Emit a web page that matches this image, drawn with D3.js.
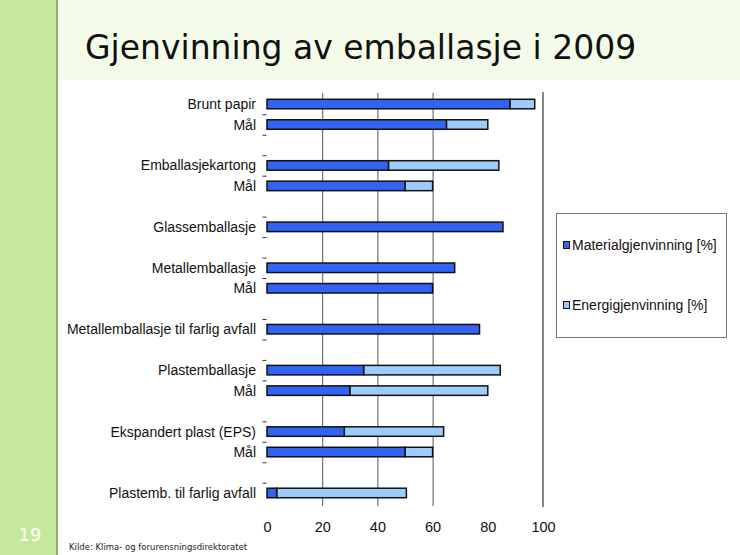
<!DOCTYPE html>
<html><head><meta charset="utf-8">
<script src="https://cdn.jsdelivr.net/npm/d3@7"></script>
<style>html,body{margin:0;padding:0;background:#fff;}svg{display:block;}</style>
</head><body>
<script>
const categories = ["Brunt papir","Mål","","Emballasjekartong","Mål","","Glassemballasje","","Metallemballasje","Mål","","Metallemballasje til farlig avfall","","Plastemballasje","Mål","","Ekspandert plast (EPS)","Mål","","Plastemb. til farlig avfall"];
const material = [88,65,null,44,50,null,85.5,null,68,60,null,77,null,35,30,null,28,50,null,3.5];
const energy   = [9,15,null,40,10,null,0,null,0,0,null,0,null,49.5,50,null,36,10,null,47];
const xTicks = [0,20,40,60,80,100];
const gridValues = [20,40,60];
const seriesNames = ["Materialgjenvinning [%]","Energigjenvinning [%]"];
const seriesColors = ["#3363f2","#9dccfb"];
const title = "Gjenvinning av emballasje i 2009";
const source = "Kilde: Klima- og forurensningsdirektoratet";
const pageNo = "19";

const W = 740, H = 555;
const svg = d3.select("body").append("svg").attr("width", W).attr("height", H);

// slide background
svg.append("rect").attr("x",0).attr("y",0).attr("width",W).attr("height",H).attr("fill","#fff");
svg.append("rect").attr("x",0).attr("y",0).attr("width",56).attr("height",H).attr("fill","#c6e89c");
svg.append("rect").attr("x",56).attr("y",0).attr("width",2).attr("height",H).attr("fill","#90aa78");
svg.append("rect").attr("x",58).attr("y",0).attr("width",W-58).attr("height",80).attr("fill","#f4fce9");
svg.append("text").attr("x",85).attr("y",59).attr("font-family","DejaVu Sans, Verdana, sans-serif")
  .attr("font-size",33).attr("fill","#111").text(title);
svg.append("text").attr("x",30).attr("y",541).attr("text-anchor","middle")
  .attr("font-family","DejaVu Sans, Verdana, sans-serif").attr("font-size",18).attr("fill","#fff").text(pageNo);
svg.append("text").attr("x",69).attr("y",550).attr("font-family","DejaVu Sans, Verdana, sans-serif")
  .attr("font-size",8.5).attr("fill","#222").text(source);

// scales
const x = d3.scaleLinear().domain([0,100]).range([267,543]);
const y = d3.scaleBand().domain(d3.range(categories.length)).range([93.8,503.2]).padding(0);
const bh = 9.5;
const font = "Liberation Sans, Arial, sans-serif";

// gridlines
svg.append("g").selectAll("line").data(gridValues).join("line")
  .attr("x1",d=>x(d)+0.5).attr("x2",d=>x(d)+0.5).attr("y1",93).attr("y2",506)
  .attr("stroke","#555").attr("stroke-width",1);
svg.append("line").attr("x1",x(100)).attr("x2",x(100)).attr("y1",92).attr("y2",507)
  .attr("stroke","#666").attr("stroke-width",1.6);

// left ticks at slot boundaries
const bounds = d3.range(1, categories.length).filter(i => i % 5 !== 0);
svg.append("g").selectAll("line").data(bounds).join("line")
  .attr("x1",262.5).attr("x2",266.5)
  .attr("y1",i=>y(i)+0.5).attr("y2",i=>y(i)+0.5)
  .attr("stroke","#333").attr("stroke-width",1);

// bars
const rows = categories.map((c,i)=>({i, c, m: material[i], e: energy[i]})).filter(d=>d.m!==null);
const g = svg.append("g");
rows.forEach(d=>{
  const yc = y(d.i) + y.bandwidth()/2;
  if (d.e > 0) {
    g.append("rect").attr("x",x(d.m)).attr("y",yc-bh/2).attr("width",x(d.m+d.e)-x(d.m)).attr("height",bh)
      .attr("fill",seriesColors[1]).attr("stroke","#111").attr("stroke-width",1.5);
  }
  g.append("rect").attr("x",x(0)).attr("y",yc-bh/2).attr("width",x(d.m)-x(0)).attr("height",bh)
    .attr("fill",seriesColors[0]).attr("stroke","#111").attr("stroke-width",1.5);
});

// category labels
svg.append("g").selectAll("text").data(rows).join("text")
  .attr("x",256).attr("y",d=>y(d.i)+y.bandwidth()/2+5)
  .attr("text-anchor","end").attr("font-family",font).attr("font-size",14)
  .attr("fill","#111").text(d=>d.c);

// x axis
const ax = svg.append("g").attr("transform","translate(0,519)")
  .call(d3.axisBottom(x).tickValues(xTicks).tickSize(0).tickFormat(d3.format("d")));
ax.select(".domain").remove();
ax.selectAll("text").attr("font-family",font).attr("font-size",14.5).attr("fill","#111");

// legend
const lg = svg.append("g");
lg.append("rect").attr("x",556.5).attr("y",213.5).attr("width",170).attr("height",124)
  .attr("fill","#fff").attr("stroke","#777").attr("stroke-width",1);
const ly = [245,305];
seriesNames.forEach((n,k)=>{
  lg.append("rect").attr("x",563.5).attr("y",ly[k]-3.5).attr("width",6).attr("height",7)
    .attr("fill",seriesColors[k]).attr("stroke","#111").attr("stroke-width",1);
  lg.append("text").attr("x",572).attr("y",ly[k]+5).attr("font-family",font).attr("font-size",14)
    .attr("fill","#111").text(n);
});
</script>
</body></html>
